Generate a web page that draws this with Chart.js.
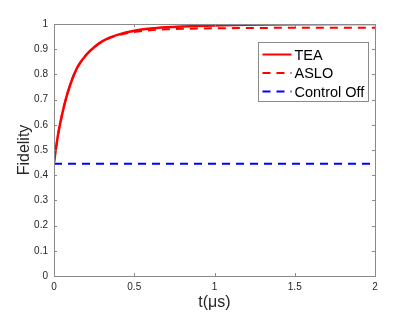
<!DOCTYPE html>
<html>
<head>
<meta charset="utf-8">
<script src="https://cdn.jsdelivr.net/npm/chart.js@4.4.1/dist/chart.umd.min.js"></script>
<style>
  html, body { margin: 0; padding: 0; background: #fff; }
  #wrap { width: 415px; height: 312px; }
</style>
</head>
<body>
<div id="wrap"><canvas id="fidChart" width="415" height="312"></canvas></div>
<script>
const tVals = [0, 0.025, 0.05, 0.075, 0.1, 0.125, 0.15, 0.2, 0.25, 0.3, 0.35, 0.4, 0.5, 0.6, 0.7, 0.8, 1.0, 1.2, 1.5, 2.0];
const teaVals = [0.45, 0.56, 0.64, 0.705, 0.757, 0.80, 0.833, 0.877, 0.908, 0.931, 0.947, 0.958, 0.973, 0.982, 0.987, 0.99, 0.994, 0.997, 0.999, 1.0];
const asloVals = [0.45, 0.56, 0.64, 0.705, 0.757, 0.80, 0.833, 0.877, 0.908, 0.93, 0.945, 0.955, 0.968, 0.975, 0.979, 0.981, 0.983, 0.984, 0.985, 0.985];
const offT = [0, 2];
const offVals = [0.445, 0.445];
const xTicks = [0, 0.5, 1, 1.5, 2];
const yTicks = [0, 0.1, 0.2, 0.3, 0.4, 0.5, 0.6, 0.7, 0.8, 0.9, 1];

const axisCol = '#8a8a8a';
const txtCol = '#262626';
const fontFam = '"Liberation Sans", Arial, sans-serif';

// MATLAB-style box with inward ticks on all four sides
const boxTicks = {
  id: 'boxTicks',
  afterDraw(chart) {
    const { ctx, chartArea: a, scales: { x, y } } = chart;
    ctx.save();
    ctx.strokeStyle = axisCol;
    ctx.lineWidth = 1;
    ctx.strokeRect(a.left + 0.5, a.top + 0.5, a.right - a.left, a.bottom - a.top);
    ctx.beginPath();
    xTicks.forEach(v => {
      const px = Math.round(x.getPixelForValue(v)) + 0.5;
      ctx.moveTo(px, a.bottom); ctx.lineTo(px, a.bottom - 3);
      ctx.moveTo(px, a.top); ctx.lineTo(px, a.top + 3);
    });
    yTicks.forEach(v => {
      const py = Math.round(y.getPixelForValue(v)) + 0.5;
      ctx.moveTo(a.left, py); ctx.lineTo(a.left + 3, py);
      ctx.moveTo(a.right, py); ctx.lineTo(a.right - 3, py);
    });
    ctx.stroke();
    ctx.restore();
  }
};

// legend box inside the plot, top right
const innerLegend = {
  id: 'innerLegend',
  afterDraw(chart) {
    const { ctx } = chart;
    const bx = 258.5, by = 42.5, bw = 110, bh = 59;
    ctx.save();
    ctx.fillStyle = '#fff';
    ctx.fillRect(bx, by, bw, bh);
    ctx.strokeStyle = '#8a8a8a';
    ctx.lineWidth = 1;
    ctx.strokeRect(bx, by, bw, bh);
    ctx.font = '14.5px ' + fontFam;
    ctx.textBaseline = 'middle';
    chart.data.datasets.forEach((ds, i) => {
      const ly = by + 12 + i * 18.5;
      ctx.strokeStyle = ds.borderColor;
      ctx.lineWidth = 2;
      ctx.setLineDash(ds.borderDash || []);
      ctx.beginPath();
      ctx.moveTo(bx + 4, ly); ctx.lineTo(bx + 33, ly);
      ctx.stroke();
      ctx.setLineDash([]);
      ctx.fillStyle = '#000';
      ctx.fillText(ds.label, bx + 36, ly + 1);
    });
    ctx.restore();
  }
};

new Chart(document.getElementById('fidChart').getContext('2d'), {
  type: 'line',
  data: {
    datasets: [
      { label: 'TEA', data: tVals.map((t, i) => ({ x: t, y: teaVals[i] })), borderColor: '#ff0000', borderWidth: 2.5, pointRadius: 0, cubicInterpolationMode: 'monotone', fill: false },
      { label: 'ASLO', data: tVals.map((t, i) => ({ x: t, y: asloVals[i] })), borderColor: '#ff0000', borderWidth: 2, borderDash: [8, 6], pointRadius: 0, cubicInterpolationMode: 'monotone', fill: false },
      { label: 'Control Off', data: offT.map((t, i) => ({ x: t, y: offVals[i] })), borderColor: '#0000ff', borderWidth: 2, borderDash: [8, 6], pointRadius: 0, fill: false }
    ]
  },
  options: {
    responsive: false,
    animation: false,
    layout: { padding: { top: 24, right: 40, left: 0, bottom: 0 } },
    plugins: { legend: { display: false }, tooltip: { enabled: false } },
    scales: {
      x: {
        type: 'linear', min: 0, max: 2,
        afterBuildTicks: s => { s.ticks = xTicks.map(v => ({ value: v })); },
        afterFit: s => { s.height = 36; },
        grid: { display: false, drawTicks: false },
        border: { display: false },
        ticks: { color: txtCol, font: { family: fontFam, size: 10 }, padding: 5, maxRotation: 0, callback: v => String(v) },
        title: { display: true, text: 't(\u03bcs)', color: txtCol, font: { family: fontFam, size: 16 }, padding: { top: 0, bottom: 0 } }
      },
      y: {
        type: 'linear', min: 0, max: 1,
        afterBuildTicks: s => { s.ticks = yTicks.map(v => ({ value: v })); },
        afterFit: s => { s.width = 54; },
        grid: { display: false, drawTicks: false },
        border: { display: false },
        ticks: { color: txtCol, font: { family: fontFam, size: 10 }, padding: 6, callback: v => String(v) },
        title: { display: true, text: 'Fidelity', color: txtCol, font: { family: fontFam, size: 16 }, padding: { top: 15, bottom: 0 } }
      }
    }
  },
  plugins: [boxTicks, innerLegend]
});
</script>
</body>
</html>
